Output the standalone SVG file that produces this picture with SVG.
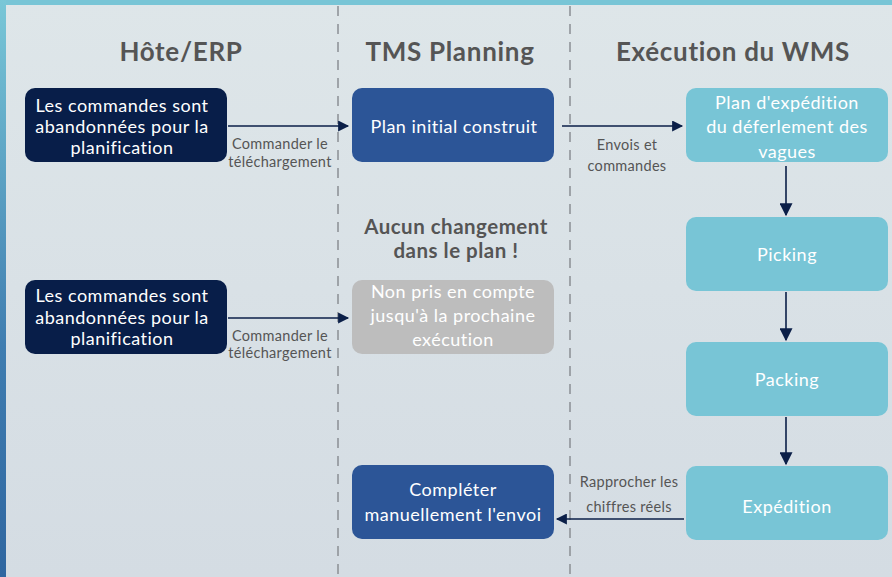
<svg xmlns="http://www.w3.org/2000/svg" width="892" height="577" viewBox="0 0 892 577">
<defs>
<linearGradient id="bg" x1="0" y1="0" x2="0" y2="1">
<stop offset="0" stop-color="#dee6e9"/>
<stop offset="1" stop-color="#d4dce3"/>
</linearGradient>
<linearGradient id="lb" x1="0" y1="0" x2="0" y2="1">
<stop offset="0" stop-color="#79c7d7"/>
<stop offset="0.6" stop-color="#3f7db0"/>
<stop offset="1" stop-color="#2f66a0"/>
</linearGradient>
<marker id="ah" viewBox="0 0 10 10" refX="9" refY="5" markerWidth="12" markerHeight="11" markerUnits="userSpaceOnUse" orient="auto">
<path d="M0,0 L10,5 L0,10 z" fill="#0b1f48"/>
</marker>
<marker id="ah2" viewBox="0 0 10 10" refX="9" refY="5" markerWidth="15" markerHeight="13" markerUnits="userSpaceOnUse" orient="auto">
<path d="M0,0 L10,5 L0,10 z" fill="#0b1f48"/>
</marker>
</defs>
<style>
.hdr{font-family:Lato,"Noto Sans",sans-serif;font-weight:bold;font-size:26px;letter-spacing:0.7px;fill:#555555;text-anchor:middle}
.note{font-family:Lato,"Noto Sans",sans-serif;font-weight:bold;font-size:20.5px;letter-spacing:0.5px;fill:#555555;text-anchor:middle}
.nt{font-family:Lato,"Noto Sans",sans-serif;font-size:18px;letter-spacing:0.5px;fill:#ffffff;text-anchor:middle}
.lbl{font-family:Lato,"Noto Sans",sans-serif;font-size:14.5px;letter-spacing:0.3px;fill:#555555;text-anchor:middle}
.navy{fill:#081e49}
.blue{fill:#2c5597}
.cyan{fill:#78c5d6}
.grey{fill:#bdbdbd}
.sep{stroke:#8a8f94;stroke-width:1.5;stroke-dasharray:10 8;fill:none}
.con{stroke:#0b1f48;stroke-width:1.6;fill:none}
</style>
<rect x="0" y="0" width="892" height="577" fill="url(#bg)"/>
<rect x="0" y="0" width="892" height="5" fill="#78c5d6"/>
<rect x="0" y="0" width="6" height="577" fill="url(#lb)"/>
<line class="sep" x1="338" y1="6" x2="338" y2="577"/>
<line class="sep" x1="570" y1="6" x2="570" y2="577"/>
<text class="hdr" x="181" y="61">Hôte/ERP</text>
<text class="hdr" x="450" y="61">TMS Planning</text>
<text class="hdr" x="733" y="61">Exécution du WMS</text>
<g id="connectors">
<line class="con" x1="228" y1="126" x2="348" y2="126" marker-end="url(#ah)"/>
<line class="con" x1="562" y1="126" x2="682" y2="126" marker-end="url(#ah)"/>
<line class="con" x1="228" y1="318" x2="348" y2="318" marker-end="url(#ah)"/>
<line class="con" x1="786" y1="166" x2="786" y2="215" marker-end="url(#ah2)"/>
<line class="con" x1="786" y1="292" x2="786" y2="340" marker-end="url(#ah2)"/>
<line class="con" x1="786" y1="417" x2="786" y2="464" marker-end="url(#ah2)"/>
<line class="con" x1="684" y1="519" x2="557" y2="519" marker-end="url(#ah)"/>
<text class="lbl" x="280" y="149">Commander le</text>
<text class="lbl" x="280" y="167">téléchargement</text>
<text class="lbl" x="280" y="341">Commander le</text>
<text class="lbl" x="280" y="358">téléchargement</text>
<text class="lbl" x="627" y="150">Envois et</text>
<text class="lbl" x="627" y="171">commandes</text>
<text class="lbl" x="629" y="487">Rapprocher les</text>
<text class="lbl" x="629" y="512">chiffres réels</text>
</g>
<g id="erp1">
<rect class="navy" x="25" y="88" width="202" height="74" rx="10"/>
<text class="nt" x="122" y="112">Les commandes sont</text>
<text class="nt" x="122" y="133">abandonnées pour la</text>
<text class="nt" x="122" y="154">planification</text>
</g>
<g id="erp2">
<rect class="navy" x="25" y="280" width="202" height="74" rx="10"/>
<text class="nt" x="122" y="302">Les commandes sont</text>
<text class="nt" x="122" y="324">abandonnées pour la</text>
<text class="nt" x="122" y="345">planification</text>
</g>
<g id="tms1">
<rect class="blue" x="352" y="88" width="202" height="74" rx="10"/>
<text class="nt" x="454" y="133">Plan initial construit</text>
</g>
<g id="note">
<text class="note" x="456" y="234">Aucun changement</text>
<text class="note" x="456" y="258">dans le plan !</text>
</g>
<g id="tms2">
<rect class="grey" x="352" y="280" width="202" height="74" rx="10"/>
<text class="nt" x="453" y="298">Non pris en compte</text>
<text class="nt" x="453" y="322">jusqu'à la prochaine</text>
<text class="nt" x="453" y="346">exécution</text>
</g>
<g id="tms3">
<rect class="blue" x="352" y="465" width="202" height="74" rx="10"/>
<text class="nt" x="453" y="496">Compléter</text>
<text class="nt" x="453" y="521">manuellement l'envoi</text>
</g>
<g id="wms1">
<rect class="cyan" x="686" y="88" width="202" height="74" rx="10"/>
<text class="nt" x="787" y="109">Plan d'expédition</text>
<text class="nt" x="787" y="133">du déferlement des</text>
<text class="nt" x="787" y="158">vagues</text>
</g>
<g id="wms2">
<rect class="cyan" x="686" y="217" width="202" height="74" rx="10"/>
<text class="nt" x="787" y="261">Picking</text>
</g>
<g id="wms3">
<rect class="cyan" x="686" y="342" width="202" height="74" rx="10"/>
<text class="nt" x="787" y="386">Packing</text>
</g>
<g id="wms4">
<rect class="cyan" x="686" y="466" width="202" height="74" rx="10"/>
<text class="nt" x="787" y="513">Expédition</text>
</g>
</svg>
